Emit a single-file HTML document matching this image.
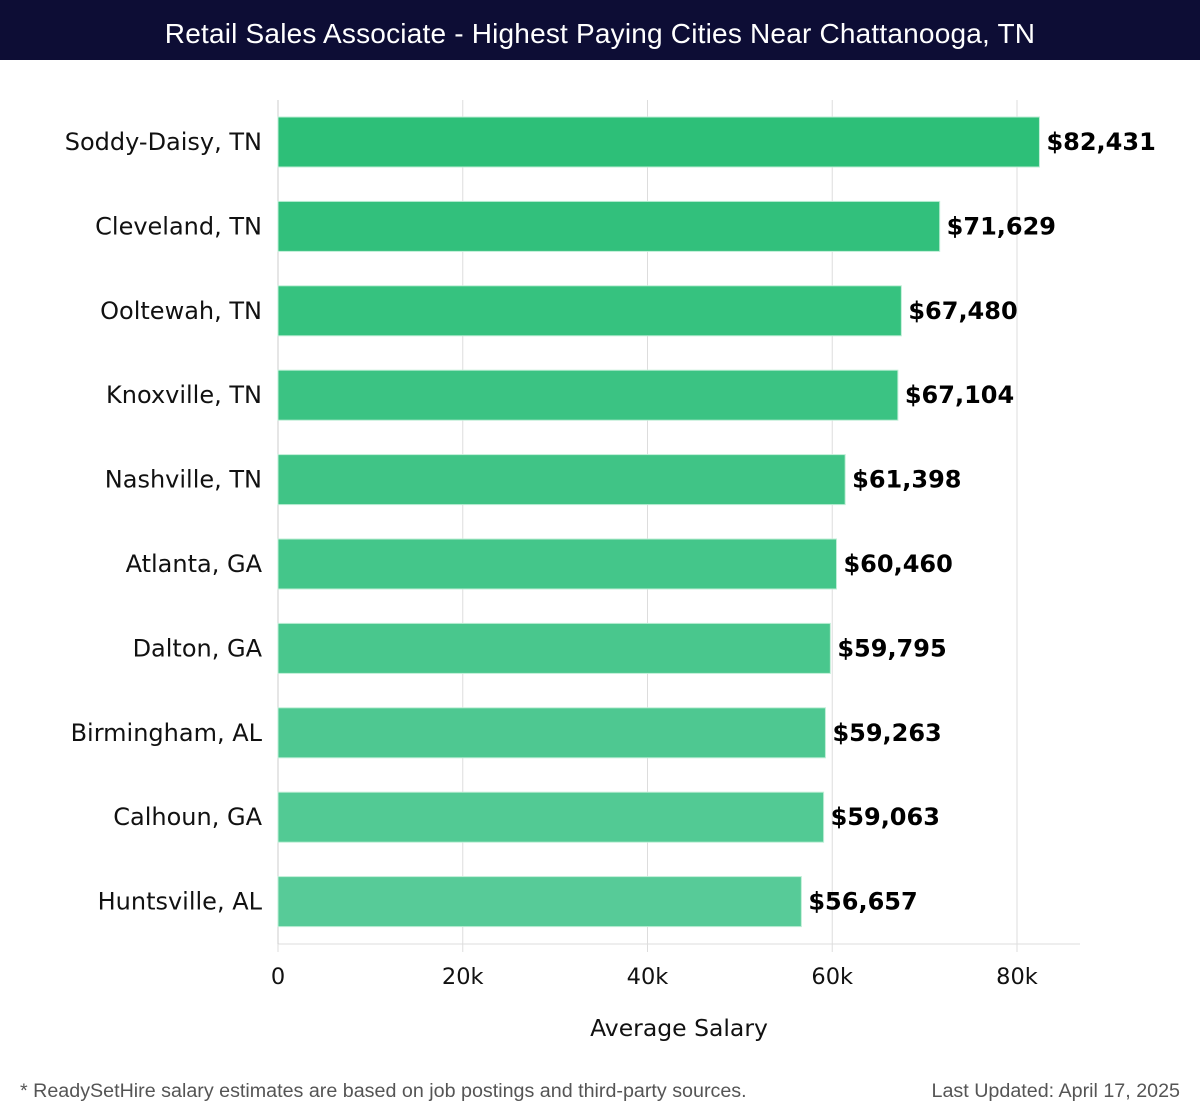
<!DOCTYPE html>
<html><head><meta charset="utf-8"><style>
body{margin:0;width:1200px;height:1120px;background:#fff;overflow:hidden;font-family:"DejaVu Sans","Liberation Sans",sans-serif}
#hdr{position:absolute;left:0;top:0;width:1200px;height:60px;background:#0d0d35;color:#fff;font:300 28px "Liberation Sans",sans-serif;text-align:center;line-height:68px;letter-spacing:0.2px}
.foot{position:absolute;top:1080px;font:19.7px "Liberation Sans",sans-serif;color:#555}
</style></head><body>
<div id="hdr">Retail Sales Associate - Highest Paying Cities Near Chattanooga, TN</div>
<svg id="chart" width="1200" height="1120" style="position:absolute;left:0;top:0"></svg>
<div class="foot" style="left:20px">* ReadySetHire salary estimates are based on job postings and third-party sources.</div>
<div class="foot" style="right:20px">Last Updated: April 17, 2025</div>
<script>
const cities=["Soddy-Daisy, TN","Cleveland, TN","Ooltewah, TN","Knoxville, TN","Nashville, TN","Atlanta, GA","Dalton, GA","Birmingham, AL","Calhoun, GA","Huntsville, AL"];
const salaries=[82431,71629,67480,67104,61398,60460,59795,59263,59063,56657];
const ticks=[0,20000,40000,60000,80000];
const tickLabels=["0","20k","40k","60k","80k"];
const svg=document.getElementById('chart');const NS="http://www.w3.org/2000/svg";
const x0=278,x1=1017,top0=100,bot=944;
const xs=v=>x0+(x1-x0)*v/80000;
const band=(bot-top0)/cities.length;
function mk(t,a){const e=document.createElementNS(NS,t);for(const k in a)e.setAttribute(k,a[k]);svg.appendChild(e);return e;}
ticks.forEach((t,i)=>{
 const g=mk('line',{x1:xs(t),x2:xs(t),y1:top0,y2:952,stroke:'#ddd','stroke-width':1});
 
 
 const l=mk('text',{x:xs(t),y:984,'text-anchor':'middle','font-size':22.5,fill:'#111'});l.textContent=tickLabels[i];
 
 
});
const ax=mk('line',{x1:x0,x2:1080,y1:bot,y2:bot,stroke:'#ddd'});


const ay=mk('line',{x1:x0,x2:x0,y1:top0,y2:bot,stroke:'#ccc'});


const c0=[45,191,120],c1=[87,203,152];
cities.forEach((c,i)=>{
 const y=top0+band*i+17,h=50,f=i/(cities.length-1);
 const col=`rgb(${c0.map((v,k)=>Math.round(v+(c1[k]-v)*f)).join(',')})`;
 const r=mk('rect',{x:x0,y:y,width:xs(salaries[i])-x0,height:h,fill:col,stroke:'#bfeed6','stroke-width':1});
 
 
 const lb=mk('text',{x:262,y:y+h/2+8,'text-anchor':'end','font-size':24,fill:'#111'});lb.textContent=c;
 
 
 const v=mk('text',{x:xs(salaries[i])+7,y:y+h/2+8,'font-size':24,'font-weight':'bold',fill:'#000'});v.textContent='$'+salaries[i].toLocaleString('en-US');
 
 
});
const xt=mk('text',{x:679,y:1036,'text-anchor':'middle','font-size':23.5,fill:'#111'});xt.textContent='Average Salary';


</script>
</body></html>
